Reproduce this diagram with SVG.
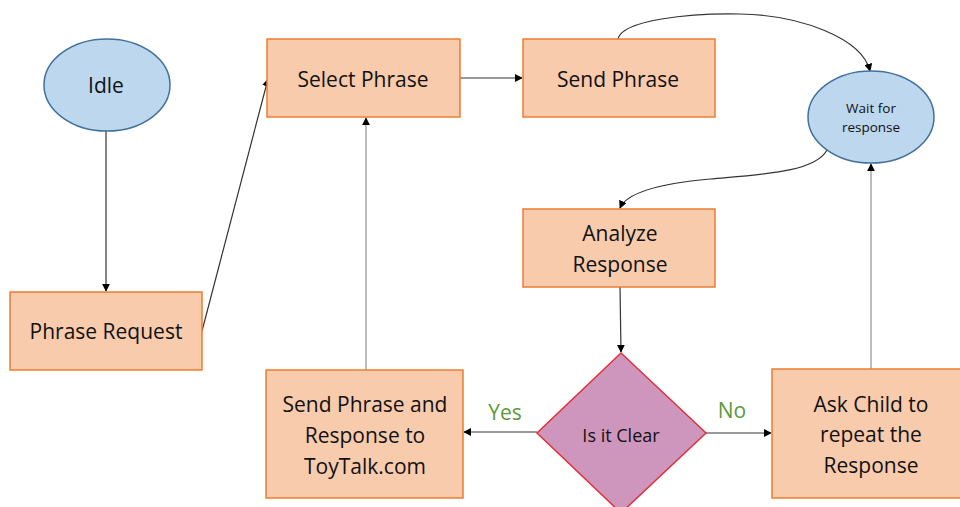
<svg xmlns="http://www.w3.org/2000/svg" width="960" height="507" viewBox="0 0 960 507">
  <style>
    .box { fill: #f8cbad; stroke: #ed7d31; stroke-width: 1.5; }
    .state { fill: #bdd7ee; stroke: #41719c; stroke-width: 1.5; }
    .decision { fill: #cf96bd; stroke: #e0303a; stroke-width: 1.5; }
    .lbl { font-family: "Open Sans", "Noto Sans", sans-serif; font-size: 21px; fill: #111; text-anchor: middle; }
    .small { font-size: 13.5px; }
    .mid { font-size: 18px; }
    .branch { font-family: "Open Sans", "Noto Sans", sans-serif; font-size: 21px; fill: #5a9a3c; text-anchor: middle; }
    .link { fill: none; stroke: #333; stroke-width: 1.2; marker-end: url(#arrow); }
    .light { stroke: #a6a6a6; stroke-width: 1.5; }
  </style>
  <defs>
    <marker id="arrow" viewBox="0 0 10 10" refX="9" refY="5" markerWidth="8" markerHeight="8" orient="auto" markerUnits="userSpaceOnUse">
      <path d="M0,0 L10,5 L0,10 z" fill="#000"/>
    </marker>
  </defs>

  <rect width="960" height="507" fill="#fff"/>

  <!-- connectors -->
  <g id="connectors">
    <line class="link" x1="106" y1="131" x2="106" y2="291"/>
    <line class="link" x1="202" y1="331" x2="268" y2="79"/>
    <line class="link" x1="460" y1="78" x2="522" y2="78"/>
    <path class="link" d="M618,39 C622,20 690,13 740,14 C800,15 862,38 870,71"/>
    <path class="link" d="M827,150 C815,172 765,174 710,179 C655,184 626,194 620,208"/>
    <line class="link" x1="620" y1="287" x2="621" y2="352"/>
    <line class="link" x1="537" y1="432" x2="464" y2="432"/>
    <line class="link" x1="706" y1="433" x2="771" y2="433"/>
    <line class="link light" x1="366" y1="370" x2="366" y2="118"/>
    <line class="link light" x1="871" y1="369" x2="871" y2="164"/>
  </g>

  <!-- nodes -->
  <g id="idle">
    <ellipse class="state" cx="107" cy="85" rx="63" ry="46"/>
    <text class="lbl" x="106" y="93">Idle</text>
  </g>
  <g id="select-phrase">
    <rect class="box" x="267" y="39" width="193" height="78"/>
    <text class="lbl" x="363" y="87">Select Phrase</text>
  </g>
  <g id="send-phrase">
    <rect class="box" x="523" y="39" width="192" height="78"/>
    <text class="lbl" x="618" y="87">Send Phrase</text>
  </g>
  <g id="wait-for-response">
    <ellipse class="state" cx="871" cy="117" rx="63" ry="46"/>
    <text class="lbl small" x="871" y="113">Wait for</text>
    <text class="lbl small" x="871" y="132">response</text>
  </g>
  <g id="phrase-request">
    <rect class="box" x="10" y="292" width="192" height="78"/>
    <text class="lbl" x="106" y="339">Phrase Request</text>
  </g>
  <g id="analyze-response">
    <rect class="box" x="523" y="209" width="192" height="78"/>
    <text class="lbl" x="620" y="241">Analyze</text>
    <text class="lbl" x="620" y="272">Response</text>
  </g>
  <g id="is-it-clear">
    <polygon class="decision" points="621,353 706,433 621,513 537,433"/>
    <text class="lbl mid" x="621" y="442">Is it Clear</text>
  </g>
  <g id="send-to-toytalk">
    <rect class="box" x="266" y="370" width="197" height="128"/>
    <text class="lbl" x="365" y="412">Send Phrase and</text>
    <text class="lbl" x="365" y="443">Response to</text>
    <text class="lbl" x="365" y="474">ToyTalk.com</text>
  </g>
  <g id="ask-child">
    <rect class="box" x="772" y="369" width="198" height="129"/>
    <text class="lbl" x="871" y="412">Ask Child to</text>
    <text class="lbl" x="871" y="442">repeat the</text>
    <text class="lbl" x="871" y="473">Response</text>
  </g>

  <!-- branch labels -->
  <text class="branch" x="505" y="420">Yes</text>
  <text class="branch" x="732" y="418">No</text>
</svg>
